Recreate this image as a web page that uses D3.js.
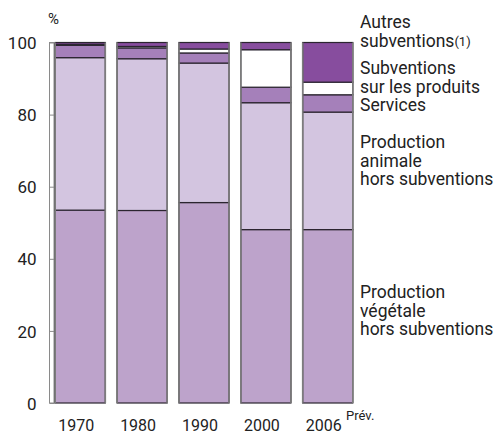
<!DOCTYPE html>
<html>
<head>
<meta charset="utf-8">
<script src="https://cdn.jsdelivr.net/npm/d3@7"></script>
<style>
  body { margin: 0; background: #fff; }
  text { font-family: Roboto, "Liberation Sans", sans-serif; fill: #222; }
</style>
</head>
<body>
<div id="chart"></div>
<script>
var years = ["1970", "1980", "1990", "2000", "2006"];
// parts in % (bottom to top)
var vegetale   = [53.5, 53.4, 55.6, 48.1, 48.1];
var animale    = [42.3, 42.1, 38.7, 35.2, 32.6];
var services   = [3.4, 3.0, 2.8, 4.3, 4.8];
var subvProd   = [0.3, 0.4, 1.1, 10.4, 3.5];
var autresSubv = [0.5, 1.1, 1.8, 2.0, 11.0];
var yTicks = [0, 20, 40, 60, 80, 100];

var series = [
  {key: "veg", values: vegetale, color: "#bda3cb"},
  {key: "ani", values: animale, color: "#d3c5e0"},
  {key: "ser", values: services, color: "#a580ba"},
  {key: "sub", values: subvProd, color: "#ffffff"},
  {key: "aut", values: autresSubv, color: "#874d9e"}
];

var width = 499, height = 435;

var svg = d3.select("#chart").append("svg")
  .attr("width", width)
  .attr("height", height);

var y = d3.scaleLinear().domain([0, 100]).range([403, 42.5]);
var x = d3.scaleBand().domain(years).range([49, 359]).paddingInner(0.19).paddingOuter(0.1);

// stack
var rows = years.map(function(yr, i) {
  var r = {year: yr};
  series.forEach(function(s) { r[s.key] = s.values[i]; });
  return r;
});
var stack = d3.stack().keys(series.map(function(s) { return s.key; }));
var layers = stack(rows);

// axis box
svg.append("rect")
  .attr("x", 49.5).attr("y", y(100))
  .attr("width", 4.5).attr("height", y(0) - y(100))
  .attr("fill", "none").attr("stroke", "#8a8a8a").attr("stroke-width", 1);

var axis = svg.append("g")
  .attr("transform", "translate(54,0)")
  .call(d3.axisLeft(y).tickValues(yTicks).tickSize(4.5).tickSizeOuter(0).tickPadding(13));
axis.select(".domain").attr("stroke", "#8a8a8a");
axis.selectAll(".tick line").attr("stroke", "#8a8a8a");
axis.selectAll(".tick text")
  .style("font-size", "17px").attr("fill", "#222")
  .attr("dy", "0.36em");

svg.append("text").attr("x", 48).attr("y", 24).text("%").style("font-size", "15px");

// bars
layers.forEach(function(layer, li) {
  svg.append("g").selectAll("rect")
    .data(layer)
    .enter().append("rect")
    .attr("x", function(d) { return x(d.data.year); })
    .attr("y", function(d) { return y(d[1]); })
    .attr("width", x.bandwidth())
    .attr("height", function(d) { return y(d[0]) - y(d[1]); })
    .attr("fill", series[li].color)
    .attr("stroke", "#2b2530")
    .attr("stroke-width", 1.2);
});

// grey side edges
svg.append("g").selectAll("line")
  .data(years.flatMap(function(yr) { return [x(yr), x(yr) + x.bandwidth()]; }))
  .enter().append("line")
  .attr("x1", function(d) { return d; }).attr("x2", function(d) { return d; })
  .attr("y1", y(100)).attr("y2", y(0))
  .attr("stroke", "#7d7d7d").attr("stroke-width", 1.6);

// year labels
svg.append("g").selectAll("text")
  .data(years)
  .enter().append("text")
  .attr("x", function(d) { return x(d) + x.bandwidth() / 2 - 4; })
  .attr("y", 431)
  .attr("text-anchor", "middle")
  .style("font-size", "16px")
  .text(function(d) { return d; });

svg.append("text")
  .attr("x", 346).attr("y", 420)
  .style("font-size", "13px")
  .text("Prév.");

// right labels
var labels = [
  {lines: ["Autres", "subventions"], y: 28, sup: true},
  {lines: ["Subventions", "sur les produits"], y: 74},
  {lines: ["Services"], y: 111},
  {lines: ["Production", "animale", "hors subventions"], y: 148},
  {lines: ["Production", "végétale", "hors subventions"], y: 298}
];
labels.forEach(function(l) {
  var t = svg.append("text").attr("x", 360).attr("y", l.y).style("font-size", "17.5px");
  l.lines.forEach(function(s, i) {
    t.append("tspan").attr("x", 360).attr("dy", i === 0 ? 0 : 18.5).text(s);
  });
  if (l.sup) {
    t.append("tspan").attr("dy", -1).style("font-size", "13px").text("(1)");
  }
});
</script>
</body>
</html>
